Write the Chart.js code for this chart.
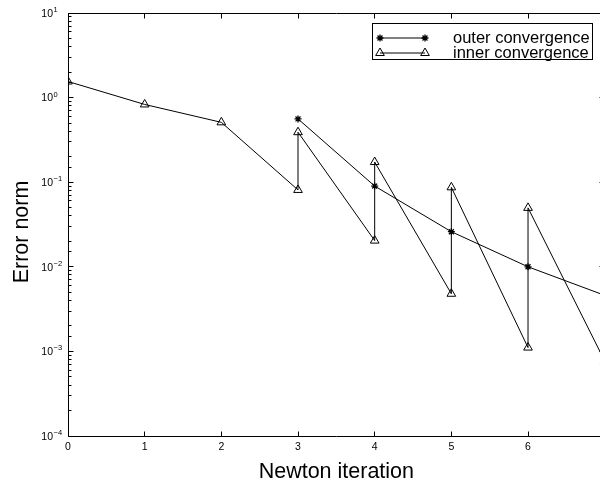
<!DOCTYPE html>
<html><head><meta charset="utf-8">
<script src="https://cdn.jsdelivr.net/npm/chart.js@4"></script>
<style>html,body{margin:0;padding:0;overflow:hidden;background:#fff;width:600px;height:486px}canvas{display:block}</style>
</head><body><canvas id="c" width="612" height="486"></canvas>
<script>
// ---- data ----
const xTickValues = [0, 1, 2, 3, 4, 5, 6];
const yTickExponents = [1, 0, -1, -2, -3, -4];
const outerLabel = 'outer convergence';
const outerX = [3, 4, 5, 6, 7];
const outerY = [0.56, 0.09, 0.026, 0.01, 0.0046];
const innerLabel = 'inner convergence';
const innerX = [0, 1, 2, 3, 3, 4, 4, 5, 5, 6, 6, 7];
const innerY = [1.55, 0.83, 0.51, 0.081, 0.39, 0.0204, 0.173, 0.0048, 0.087, 0.00111, 0.0497, 0.00077];
const xTitle = 'Newton iteration';
const yTitle = 'Error norm';

const FONT = '"Liberation Sans", Arial, Helvetica, sans-serif';
const pts = (xs, ys) => xs.map((v, i) => ({x: v, y: ys[i]}));

const decorations = {
  id: 'decorations',
  afterDraw(chart) {
    const {ctx, chartArea: a, scales: {x, y}} = chart;
    const snap = v => Math.floor(v) + 0.5;
    const L = snap(a.left), R = snap(a.right), T = snap(a.top), B = snap(a.bottom);
    ctx.save();
    ctx.strokeStyle = '#000';
    ctx.lineWidth = 1;
    ctx.beginPath();
    ctx.rect(L, T, R - L, B - T);
    xTickValues.forEach(v => {
      const px = snap(x.getPixelForValue(v));
      ctx.moveTo(px, B); ctx.lineTo(px, B - 5);
      ctx.moveTo(px, T); ctx.lineTo(px, T + 5);
    });
    y.ticks.forEach(t => {
      const lg = Math.log10(t.value);
      const major = Math.abs(lg - Math.round(lg)) < 1e-6;
      const len = major ? 5 : 3;
      const py = snap(y.getPixelForValue(t.value));
      ctx.moveTo(L, py); ctx.lineTo(L + len, py);
      ctx.moveTo(R, py); ctx.lineTo(R - len, py);
    });
    ctx.stroke();

    // y tick labels with superscript exponents
    ctx.fillStyle = '#000';
    yTickExponents.forEach(e => {
      const py = y.getPixelForValue(Math.pow(10, e));
      ctx.font = '10.5px ' + FONT;
      ctx.textAlign = 'right';
      ctx.textBaseline = 'middle';
      ctx.fillText('10', 53, py + 1);
      ctx.font = '7.5px ' + FONT;
      ctx.textAlign = 'left';
      ctx.textBaseline = 'alphabetic';
      ctx.fillText(String(e).replace('-', '\u2212'), 53.5, py - 1);
    });

    // y axis title
    ctx.save();
    ctx.translate(22, 232);
    ctx.rotate(-Math.PI / 2);
    ctx.font = '21.5px ' + FONT;
    ctx.textAlign = 'center';
    ctx.textBaseline = 'middle';
    ctx.fillText(yTitle, 0, 0);
    ctx.restore();

    // legend
    const bx = 372.5, by = 23.5, bw = 220, bh = 36;
    ctx.fillStyle = '#fff';
    ctx.fillRect(bx, by, bw, bh);
    ctx.strokeRect(bx, by, bw, bh);
    const rows = [38, 53];
    chart.data.datasets.forEach((ds, i) => {
      const yy = rows[i];
      ctx.strokeStyle = '#000';
      ctx.lineWidth = 1;
      ctx.beginPath();
      ctx.moveTo(380, yy); ctx.lineTo(425, yy);
      ctx.stroke();
      const opts = {pointStyle: ds.pointStyle, radius: ds.pointRadius, borderWidth: ds.pointBorderWidth || 1};
      ctx.lineWidth = opts.borderWidth;
      ctx.fillStyle = 'rgba(0,0,0,0)';
      [380, 425].forEach(px => {
        Chart.helpers.drawPoint(ctx, opts, px, yy);
      });
      ctx.fillStyle = '#000';
      ctx.font = '16.5px ' + FONT;
      ctx.textAlign = 'left';
      ctx.textBaseline = 'middle';
      ctx.fillText(ds.label, 453, yy + 0.5);
    });
    ctx.restore();
  }
};

new Chart(document.getElementById('c'), {
  type: 'line',
  data: {
    datasets: [
      {
        label: outerLabel,
        data: pts(outerX, outerY),
        borderColor: '#000', backgroundColor: 'rgba(0,0,0,0)', borderWidth: 1,
        pointStyle: 'star', pointRadius: 3.5, pointBorderWidth: 1.3,
        pointBorderColor: '#000', pointBackgroundColor: 'rgba(0,0,0,0)',
        tension: 0, fill: false
      },
      {
        label: innerLabel,
        data: pts(innerX, innerY),
        borderColor: '#000', backgroundColor: 'rgba(0,0,0,0)', borderWidth: 1,
        pointStyle: 'triangle', pointRadius: 5, pointBorderWidth: 1,
        pointBorderColor: '#000', pointBackgroundColor: 'rgba(0,0,0,0)',
        tension: 0, fill: false
      }
    ]
  },
  options: {
    responsive: false,
    animation: false,
    devicePixelRatio: 1,
    layout: {padding: {left: 0, top: 13, right: 7.3, bottom: 0}},
    plugins: {legend: {display: false}, tooltip: {enabled: false}},
    scales: {
      x: {
        type: 'linear', min: 0, max: 7,
        grid: {display: false, drawTicks: false},
        border: {display: false},
        ticks: {
          stepSize: 1, padding: 5, color: '#000',
          font: {family: FONT, size: 10.5},
          callback: v => xTickValues.includes(v) ? String(v) : ''
        },
        title: {display: true, text: xTitle, color: '#000', font: {family: FONT, size: 21.5}, padding: {top: 0, bottom: 1}},
        afterFit: s => { s.height = 50; }
      },
      y: {
        type: 'logarithmic', min: 1e-4, max: 10,
        grid: {display: false, drawTicks: false},
        border: {display: false},
        ticks: {display: false, autoSkip: false},
        title: {display: false, text: yTitle},
        afterFit: s => { s.width = 68; }
      }
    }
  },
  plugins: [decorations]
});
</script>
</body></html>
